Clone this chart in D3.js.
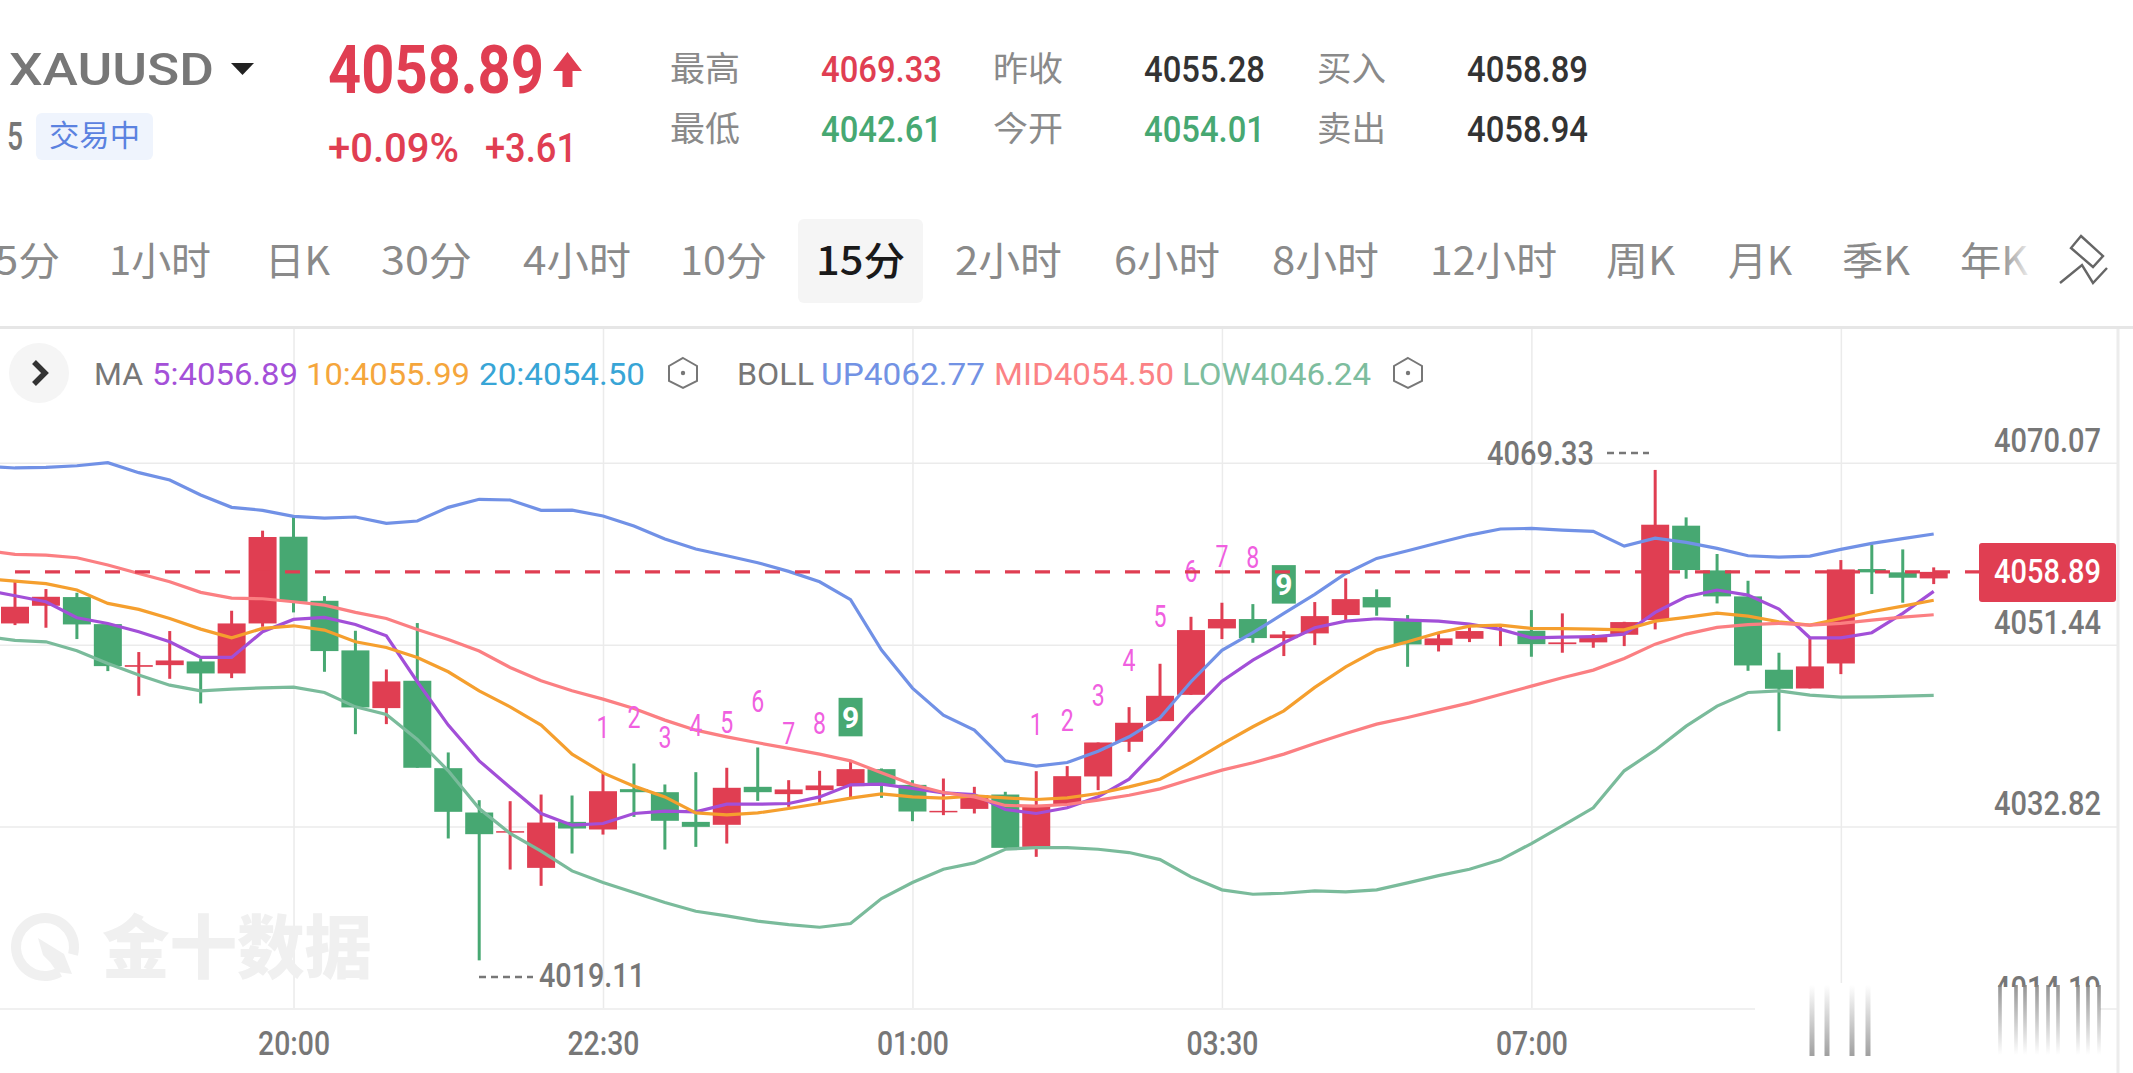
<!DOCTYPE html>
<html>
  <head>
    <meta charset="utf-8">
    <title>XAUUSD 15分</title>
    <script src="https://d3js.org/d3.v7.min.js" charset="utf-8"></script>
    <style>
      body { margin: 0; background: #fff; }
      svg { display: block; }
    </style>
  </head>

  <body>
    <script>
      // candles, left to right, 15 minutes each
      var opens = [4053.61,4055.42,4056.31,4053.54,4049.17,4049.34,4049.72,4048.49,4053.61,4062.49,4055.93,4050.85,4044.94,4047.74,4038.79,4034.25,4032.20,4028.58,4033.29,4032.51,4036.64,4036.33,4033.29,4032.99,4036.88,4036.13,4036.54,4036.95,4038.69,4037.08,4034.32,4034.62,4036.09,4030.73,4035.10,4037.94,4041.49,4043.61,4046.30,4053.10,4054.06,4052.11,4052.59,4054.47,4056.31,4053.85,4051.39,4052.04,4053.27,4052.86,4051.49,4051.67,4052.45,4053.95,4063.62,4059.04,4056.38,4048.87,4046.95,4049.51,4059.18,4058.84,4058.22];
      var closes = [4055.32,4056.34,4053.51,4049.24,4049.34,4049.82,4048.49,4053.61,4062.46,4055.83,4050.78,4045.01,4047.67,4038.83,4034.32,4032.03,4032.34,4033.22,4032.61,4036.43,4036.33,4033.40,4032.78,4036.78,4036.33,4036.61,4037.02,4038.69,4037.12,4034.35,4034.42,4036.02,4030.63,4034.83,4037.97,4041.42,4043.44,4046.20,4052.93,4054.06,4052.11,4052.48,4054.36,4056.10,4055.25,4051.46,4052.08,4052.83,4053.44,4051.49,4051.67,4052.25,4053.75,4063.72,4059.08,4056.38,4049.31,4046.92,4049.21,4059.14,4058.84,4058.29,4058.89];
      var highs = [4057.88,4057.13,4056.75,4053.54,4050.68,4052.83,4050.03,4054.91,4063.11,4064.54,4056.41,4052.86,4048.90,4053.65,4040.40,4035.51,4035.41,4036.09,4035.99,4038.24,4039.27,4037.12,4038.38,4038.83,4040.91,4037.56,4038.52,4039.44,4038.76,4037.56,4037.73,4036.88,4036.37,4038.48,4039.00,4041.42,4045.04,4049.48,4054.29,4055.73,4055.59,4052.83,4055.80,4058.22,4057.10,4054.47,4052.52,4053.27,4053.44,4054.98,4054.64,4052.52,4053.78,4069.33,4064.47,4060.72,4057.98,4050.61,4052.14,4060.10,4061.64,4061.19,4059.35];
      var lows = [4053.44,4053.17,4052.01,4048.73,4046.20,4047.94,4045.42,4048.01,4053.27,4054.74,4048.66,4042.27,4043.30,4038.83,4031.59,4019.11,4028.41,4026.74,4030.05,4031.99,4033.80,4030.46,4030.73,4031.07,4035.44,4034.83,4035.24,4035.68,4035.75,4033.36,4033.98,4034.15,4030.63,4029.71,4035.10,4036.54,4040.46,4043.61,4046.30,4052.01,4051.63,4050.27,4051.39,4053.95,4054.40,4049.17,4050.74,4051.70,4051.29,4050.20,4050.61,4051.12,4051.29,4053.00,4058.19,4055.66,4048.76,4042.58,4046.95,4048.42,4056.62,4055.73,4057.64];

      // line values start one candle before the first candle (cut by the left edge)
      var bollUp = [4069.73,4069.53,4069.59,4069.76,4070.07,4069.05,4068.30,4066.76,4065.50,4065.19,4064.57,4064.40,4064.51,4063.86,4064.10,4065.50,4066.32,4066.25,4065.19,4065.22,4064.61,4063.58,4062.25,4061.23,4060.54,4059.83,4058.94,4057.88,4056.04,4050.88,4046.99,4044.22,4042.68,4039.54,4039.00,4039.37,4040.53,4042.00,4043.95,4047.64,4050.85,4052.66,4054.64,4056.58,4058.73,4060.27,4061.06,4061.88,4062.66,4063.28,4063.34,4063.17,4063.04,4061.53,4062.35,4061.91,4061.30,4060.54,4060.41,4060.51,4061.19,4061.81,4062.29,4062.77];
      var bollMid = [4061.12,4060.68,4060.61,4060.34,4059.59,4058.73,4057.88,4056.79,4056.21,4056.14,4055.83,4055.49,4054.74,4054.12,4053.00,4051.97,4050.78,4049.10,4047.74,4046.71,4045.86,4044.90,4043.71,4042.68,4042.00,4041.39,4040.81,4040.23,4039.54,4038.31,4037.12,4036.30,4035.85,4034.97,4034.90,4035.07,4035.51,4036.02,4036.67,4037.66,4038.59,4039.34,4040.23,4041.32,4042.34,4043.30,4043.98,4044.73,4045.48,4046.34,4047.19,4048.05,4048.83,4050.03,4051.49,4052.52,4053.20,4053.48,4053.61,4053.44,4053.61,4053.95,4054.26,4054.50];
      var bollLow = [4052.31,4051.87,4051.73,4050.81,4049.51,4048.32,4047.29,4046.71,4046.88,4047.02,4047.09,4046.54,4045.07,4044.29,4041.73,4038.52,4034.66,4032.10,4030.29,4028.27,4027.08,4026.05,4025.03,4024.14,4023.66,4023.12,4022.77,4022.50,4022.88,4025.44,4027.08,4028.44,4029.09,4030.49,4030.66,4030.66,4030.49,4030.15,4029.43,4027.66,4026.33,4025.88,4025.98,4026.22,4026.12,4026.33,4027.04,4027.79,4028.44,4029.40,4031.07,4032.88,4034.73,4038.52,4040.63,4043.09,4045.14,4046.54,4046.71,4046.27,4046.06,4046.10,4046.17,4046.24];
      var ma5 = [4057.03,4056.45,4055.83,4054.19,4053.61,4052.76,4051.73,4050.13,4050.13,4052.76,4054.02,4054.23,4053.51,4052.35,4047.64,4043.20,4039.54,4036.81,4034.15,4032.95,4033.12,4034.15,4034.39,4034.32,4035.10,4035.10,4035.17,4035.85,4037.08,4037.15,4036.71,4036.26,4036.09,4034.56,4034.15,4034.73,4035.85,4037.66,4040.98,4044.49,4047.70,4049.86,4051.63,4053.17,4053.85,4054.09,4053.95,4053.85,4053.54,4053.00,4052.14,4052.21,4052.25,4052.52,4054.74,4056.34,4057.03,4056.51,4055.08,4052.14,4052.14,4052.66,4054.64,4056.89];
      var ma10 = [4058.22,4057.95,4057.68,4057.03,4055.66,4055.05,4054.12,4053.03,4052.14,4053.10,4053.37,4052.93,4051.73,4051.15,4050.13,4048.66,4046.71,4045.07,4043.20,4040.23,4038.31,4036.95,4035.85,4034.21,4034.01,4034.21,4034.66,4035.17,4035.72,4036.16,4035.85,4035.72,4035.96,4035.75,4035.58,4035.75,4036.20,4036.88,4037.66,4039.37,4041.25,4043.03,4044.66,4047.06,4049.17,4050.88,4051.73,4052.66,4053.34,4053.44,4053.10,4053.07,4053.03,4052.96,4053.85,4054.23,4054.67,4054.36,4053.78,4053.44,4054.12,4054.81,4055.39,4055.99];

      // sequence counter above the candles
      var countIndex = [19,20,21,22,23,24,25,26,27,33,34,35,36,37,38,39,40,41];
      var countLabel = ["1","2","3","4","5","6","7","8","9","1","2","3","4","5","6","7","8","9"];
      var countPrice = [4041.83,4042.92,4040.81,4042.07,4042.44,4044.56,4041.22,4042.24,4042.92,4042.17,4042.62,4045.14,4048.76,4053.27,4057.88,4059.35,4059.25,4056.51];

      var timeIndex = [9,19,29,39,49];
      var timeLabel = ["20:00","22:30","01:00","03:30","07:00"];
      var priceTicks = [4070.07,4051.44,4032.82];
      var lastPrice = 4058.89;
      var dayHigh = 4069.33;
      var dayLow = 4019.11;

      var tabLabel = ["5分","1小时","日K","30分","4小时","10分","15分","2小时","6小时","8小时","12小时","周K","月K","季K","年K"];
      var tabLeft = [-5,109,265,381,523,680,816,955,1114,1272,1430,1606,1728,1842,1960];
      var tabWidth = [65,102,65,91,108,87,89,107,106,107,127,69,64,68,68];

      var RED = "#e03e52", GREEN = "#47a872", GRAY = "#8a8a8a", AXIS = "#777", DARK = "#333";
      var NUM = "Roboto, sans-serif", CJK = "'Noto Sans CJK SC', sans-serif";

      var svg = d3.select("body").append("svg")
        .attr("width", 2133)
        .attr("height", 1073);

      var x = d3.scaleLinear().domain([0, 62]).range([15, 1933.7]);
      var y = d3.scaleLinear().domain([4014.19, 4070.07]).range([1008.4, 462.7]);

      // text helper, width squeezes to the narrow digits of the original
      function label(parent, s, px, py, size, color, opt) {
        opt = opt || {};
        var t = parent.append("text").text(s)
          .attr("x", px).attr("y", py)
          .attr("font-size", size)
          .attr("fill", color)
          .attr("font-family", opt.font || NUM)
          .attr("font-weight", opt.weight || 400)
          .attr("text-anchor", opt.anchor || "start");
        if (opt.width) t.attr("textLength", opt.width).attr("lengthAdjust", "spacingAndGlyphs");
        return t;
      }

      /* ---------- header ---------- */
      var head = svg.append("g");
      label(head, "XAUUSD", 9, 85, 45, "#777", {weight: 500, width: 205});
      head.append("path").attr("d", "M231 63L254 63L242.5 75Z").attr("fill", "#222");
      label(head, "4058.89", 328, 93, 67, RED, {weight: 700, width: 216});
      head.append("path").attr("d", "M567.5 52L582 71L572.5 71L572.5 87L562.5 87L562.5 71L553 71Z").attr("fill", RED);
      label(head, "+0.09%", 328, 162, 41, RED, {weight: 500, width: 131});
      label(head, "+3.61", 485, 162, 41, RED, {weight: 500, width: 92});
      label(head, "5", 7, 150, 38, "#777", {weight: 500, width: 16});
      head.append("rect").attr("x", 36).attr("y", 113).attr("width", 117).attr("height", 47).attr("rx", 6).attr("fill", "#eff4fd");
      label(head, "交易中", 49, 146, 30, "#5b82e0", {font: CJK, width: 91});

      label(head, "最高", 670, 81, 34, GRAY, {font: CJK, width: 70});
      label(head, "最低", 670, 141, 34, GRAY, {font: CJK, width: 70});
      label(head, "昨收", 993, 81, 34, GRAY, {font: CJK, width: 70});
      label(head, "今开", 993, 141, 34, GRAY, {font: CJK, width: 70});
      label(head, "买入", 1317, 81, 34, GRAY, {font: CJK, width: 69});
      label(head, "卖出", 1317, 141, 34, GRAY, {font: CJK, width: 69});
      label(head, "4069.33", 821, 82, 36, RED, {weight: 500, width: 121});
      label(head, "4042.61", 821, 142, 36, GREEN, {weight: 500, width: 121});
      label(head, "4055.28", 1144, 82, 36, DARK, {weight: 500, width: 121});
      label(head, "4054.01", 1144, 142, 36, GREEN, {weight: 500, width: 121});
      label(head, "4058.89", 1467, 82, 36, DARK, {weight: 500, width: 121});
      label(head, "4058.94", 1467, 142, 36, DARK, {weight: 500, width: 121});

      /* ---------- period tabs ---------- */
      var tabs = svg.append("g");
      tabs.append("rect").attr("x", 798).attr("y", 219).attr("width", 125).attr("height", 84).attr("rx", 6).attr("fill", "#f5f5f5");
      tabLabel.forEach(function (s, i) {
        var on = s == "15分";
        label(tabs, s, tabLeft[i], 275, 39, on ? "#1a1a1a" : GRAY, {font: CJK, weight: on ? 500 : 400, width: tabWidth[i]});
      });
      // the last tab runs out under a white fade
      var defs = svg.append("defs");
      var fade = defs.append("linearGradient").attr("id", "tabFade");
      fade.append("stop").attr("offset", 0).attr("stop-color", "#fff").attr("stop-opacity", 0);
      fade.append("stop").attr("offset", 1).attr("stop-color", "#fff").attr("stop-opacity", 1);
      tabs.append("rect").attr("x", 2000).attr("y", 235).attr("width", 34).attr("height", 50).attr("fill", "url(#tabFade)");
      tabs.append("path").attr("fill", "none").attr("stroke", "#666").attr("stroke-width", 2.4)
        .attr("d", "M2081 236L2103 256L2093 267L2071 248ZM2060 283L2082 265L2093 283L2107 268");

      svg.append("rect").attr("x", 0).attr("y", 326).attr("width", 2133).attr("height", 3).attr("fill", "#e6e6e6");

      /* ---------- grid and axes ---------- */
      var grid = svg.append("g");
      var xAxis = d3.axisBottom(x).tickValues(timeIndex.concat([59]))
        .tickSize(0).tickPadding(0)
        .tickFormat(function (d) { return timeLabel[timeIndex.indexOf(d)] || ""; });
      var xg = grid.append("g").attr("transform", "translate(0,1008)").call(xAxis);
      xg.select(".domain").remove();
      xg.selectAll(".tick").append("line").attr("y1", -679).attr("y2", 0).attr("stroke", "#ebebeb").attr("stroke-width", 1.5);
      xg.selectAll("text").attr("y", 47).attr("dy", 0)
        .attr("font-size", 33).attr("font-family", NUM).attr("font-weight", 500).attr("fill", AXIS)
        .attr("textLength", 72).attr("lengthAdjust", "spacingAndGlyphs");

      var yAxis = d3.axisRight(y).tickValues(priceTicks.concat([4014.19]))
        .tickSize(0).tickPadding(0)
        .tickFormat(function (d) { return priceTicks.indexOf(d) < 0 ? "" : d3.format(".2f")(d); });
      var yg = grid.append("g").attr("transform", "translate(1994,0)").call(yAxis);
      yg.select(".domain").remove();
      yg.selectAll(".tick").append("line").attr("x1", -1994).attr("x2", 124).attr("stroke", "#ebebeb").attr("stroke-width", 1.5);
      yg.selectAll("text").attr("x", 0).attr("y", -11.5).attr("dy", 0)
        .attr("font-size", 33).attr("font-family", NUM).attr("font-weight", 500).attr("fill", AXIS)
        .attr("textLength", 107).attr("lengthAdjust", "spacingAndGlyphs");

      svg.append("rect").attr("x", 2116.5).attr("y", 329).attr("width", 3).attr("height", 744).attr("fill", "#ececec");

      /* ---------- legend row ---------- */
      var leg = svg.append("g");
      leg.append("circle").attr("cx", 39).attr("cy", 373).attr("r", 30).attr("fill", "#f5f5f5");
      leg.append("path").attr("d", "M34 362L45 373L34 384").attr("fill", "none").attr("stroke", DARK).attr("stroke-width", 5.5);
      label(leg, "MA", 94, 385, 32, "#777", {width: 49});
      label(leg, "5:4056.89", 152, 385, 32, "#a450d8", {width: 146});
      label(leg, "10:4055.99", 306, 385, 32, "#f5a63c", {width: 164});
      label(leg, "20:4054.50", 479, 385, 32, "#38a5d6", {width: 166});
      label(leg, "BOLL", 737, 385, 32, "#777", {width: 77});
      label(leg, "UP4062.77", 821, 385, 32, "#7292e4", {width: 164});
      label(leg, "MID4054.50", 994, 385, 32, "#fb8285", {width: 180});
      label(leg, "LOW4046.24", 1182, 385, 32, "#7dbd9e", {width: 189});
      [683, 1408].forEach(function (cx) {
        leg.append("path").attr("fill", "none").attr("stroke", "#777").attr("stroke-width", 2)
          .attr("d", "M" + cx + " 358L" + (cx + 14) + " 366L" + (cx + 14) + " 381L" + cx + " 388L" + (cx - 14) + " 381L" + (cx - 14) + " 366Z");
        leg.append("circle").attr("cx", cx).attr("cy", 373).attr("r", 2.2).attr("fill", "#777");
      });

      /* ---------- watermark ---------- */
      var mark = svg.append("g").attr("fill", "#f0f0f0");
      mark.append("path").attr("transform", "translate(45,947)")
        .attr("d", d3.arc()({innerRadius: 24, outerRadius: 34, startAngle: 150 * Math.PI / 180, endAngle: 465 * Math.PI / 180}));
      mark.append("path").attr("d", "M38 938L64 954L72 974L57 972L50 962L43 955Z");
      label(mark, "金十数据", 102, 973, 69, "#f0f0f0", {font: CJK, weight: 900, width: 270});

      /* ---------- candles ---------- */
      var candles = svg.append("g");
      var rows = opens.map(function (o, i) {
        return {i: i, open: o, close: closes[i], high: highs[i], low: lows[i]};
      });
      function candleColor(d) { return d.close >= d.open ? RED : GREEN; }

      candles.selectAll("line").data(rows).enter().append("line")
        .attr("x1", function (d) { return x(d.i); })
        .attr("x2", function (d) { return x(d.i); })
        .attr("y1", function (d) { return y(d.high); })
        .attr("y2", function (d) { return y(d.low); })
        .attr("stroke-width", 3)
        .attr("stroke", candleColor);

      candles.selectAll("rect").data(rows).enter().append("rect")
        .attr("x", function (d) { return x(d.i) - 14; })
        .attr("width", 28)
        .attr("y", function (d) { return y(Math.max(d.open, d.close)); })
        .attr("height", function (d) { return Math.max(1.5, Math.abs(y(d.open) - y(d.close))); })
        .attr("fill", candleColor);

      /* ---------- indicator lines ---------- */
      var line = d3.line()
        .x(function (d, i) { return x(i - 1); })
        .y(function (d) { return y(d); });

      var series = [
        {values: ma5, color: "#a24fd8"},
        {values: ma10, color: "#f59f2e"},
        {values: bollUp, color: "#7191e6"},
        {values: bollMid, color: "#fb7f82"},
        {values: bollLow, color: "#7abb9b"}
      ];
      svg.append("g").selectAll("path").data(series).enter().append("path")
        .attr("fill", "none")
        .attr("stroke-width", 3.2)
        .attr("stroke", function (d) { return d.color; })
        .attr("d", function (d) { return line(d.values); });

      /* ---------- sequence counter ---------- */
      var counts = svg.append("g");
      countLabel.forEach(function (s, i) {
        var cx = x(countIndex[i]), cy = y(countPrice[i]);
        if (s == "9") {
          counts.append("rect").attr("x", cx - 12).attr("y", cy - 30).attr("width", 24).attr("height", 38.5).attr("fill", GREEN);
          label(counts, s, cx, cy, 30, "#fff", {anchor: "middle", weight: 700});
        } else {
          label(counts, s, cx, cy, 31, "#f05fe0", {anchor: "middle", width: 13});
        }
      });

      /* ---------- last price ---------- */
      svg.append("line")
        .attr("x1", -15).attr("x2", 1979)
        .attr("y1", y(lastPrice)).attr("y2", y(lastPrice))
        .attr("stroke", RED).attr("stroke-width", 3.2).attr("stroke-dasharray", "15 15");
      svg.append("rect").attr("x", 1979).attr("y", y(lastPrice) - 29).attr("width", 137).attr("height", 59).attr("rx", 3).attr("fill", RED);
      label(svg, d3.format(".2f")(lastPrice), 1994, y(lastPrice) + 11.5, 33, "#fff", {weight: 500, width: 107});

      /* ---------- high and low notes ---------- */
      var notes = svg.append("g");
      label(notes, d3.format(".2f")(dayHigh), 1487, 465, 33, AXIS, {weight: 500, width: 107});
      notes.append("line").attr("x1", 1607).attr("x2", 1649).attr("y1", 453).attr("y2", 453)
        .attr("stroke", AXIS).attr("stroke-width", 2.4).attr("stroke-dasharray", "7 5");
      notes.append("line").attr("x1", 479).attr("x2", 533).attr("y1", 977).attr("y2", 977)
        .attr("stroke", AXIS).attr("stroke-width", 2.4).attr("stroke-dasharray", "7 5");
      label(notes, d3.format(".2f")(dayLow), 539, 987, 33, AXIS, {weight: 500, width: 106});

      /* ---------- smeared strip at the bottom right of the screenshot ---------- */
      var smear = svg.append("g");
      smear.append("rect").attr("x", 1755).attr("y", 983).attr("width", 345).attr("height", 90).attr("fill", "#fff");
      var g1 = defs.append("linearGradient").attr("id", "smearUp").attr("x1", 0).attr("x2", 0).attr("y1", 0).attr("y2", 1);
      g1.append("stop").attr("offset", 0).attr("stop-color", "#888").attr("stop-opacity", 0);
      g1.append("stop").attr("offset", 1).attr("stop-color", "#888").attr("stop-opacity", 0.8);
      [1812, 1827, 1852, 1868].forEach(function (sx) {
        smear.append("rect").attr("x", sx - 2.5).attr("y", 985).attr("width", 5).attr("height", 71).attr("fill", "url(#smearUp)");
      });

      defs.append("clipPath").attr("id", "axisCut").append("rect").attr("x", 1990).attr("y", 970).attr("width", 120).attr("height", 17);
      label(smear, "4014.19", 1994, 1000, 33, AXIS, {weight: 500, width: 107})
        .attr("clip-path", "url(#axisCut)");
      var g2 = defs.append("linearGradient").attr("id", "smearDown").attr("x1", 0).attr("x2", 0).attr("y1", 0).attr("y2", 1);
      g2.append("stop").attr("offset", 0).attr("stop-color", "#808080").attr("stop-opacity", 0.85);
      g2.append("stop").attr("offset", 1).attr("stop-color", "#808080").attr("stop-opacity", 0);
      [2000, 2016, 2025, 2037, 2048, 2058, 2078, 2088, 2099].forEach(function (sx) {
        smear.append("rect").attr("x", sx - 1.8).attr("y", 985).attr("width", 3.6).attr("height", 70).attr("fill", "url(#smearDown)");
      });
    </script>
  </body>
</html>
